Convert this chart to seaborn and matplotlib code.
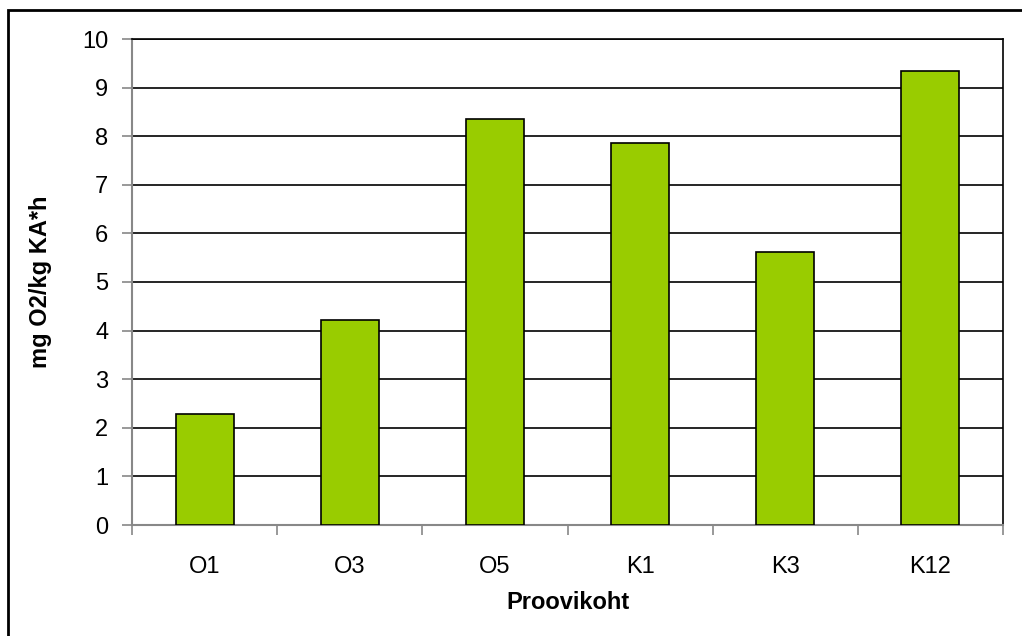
import matplotlib
matplotlib.use("Agg")
import matplotlib.pyplot as plt
import seaborn as sns
import pandas as pd
import numpy as np
from matplotlib.patches import Rectangle
from matplotlib.ticker import FixedLocator

categories = ["O1", "O3", "O5", "K1", "K3", "K12"]
values = [2.28, 4.22, 8.36, 7.87, 5.61, 9.35]
y_ticks = [0, 1, 2, 3, 4, 5, 6, 7, 8, 9, 10]

sns.set_style("white")
plt.rcParams['font.family'] = ['Liberation Sans', 'DejaVu Sans']

df = pd.DataFrame({"Proovikoht": categories, "value": values})

fig = plt.figure(figsize=(10.22, 6.36), dpi=100)
ax = fig.add_axes([132/1022, 1-525/636, (1003-132)/1022, (525-39)/636])

sns.barplot(data=df, x="Proovikoht", y="value", order=categories, color="#99cc00",
            width=0.4, edgecolor="black", linewidth=1.2, saturation=1, ax=ax, zorder=3)

ax.set_ylim(0, 10)
ax.set_xlim(-0.5, len(categories) - 0.5)
ax.set_yticks(y_ticks)
ax.yaxis.grid(True, color="black", linewidth=1.2, zorder=0)
ax.set_axisbelow(True)

ax.tick_params(axis="y", which="major", length=7, width=1.2, color="#888888",
               direction="out", labelsize=17, pad=10, left=True, labelcolor="black")
ax.tick_params(axis="x", which="major", length=0, labelsize=17, pad=22, labelcolor="black")
ax.xaxis.set_minor_locator(FixedLocator(np.arange(-0.5, len(categories), 1.0)))
ax.tick_params(axis="x", which="minor", length=7, width=1.2, color="#888888",
               direction="out", bottom=True)

for side in ["left", "bottom"]:
    ax.spines[side].set_color("#888888")
    ax.spines[side].set_linewidth(1.5)
for side in ["top", "right"]:
    ax.spines[side].set_visible(True)
    ax.spines[side].set_color("black")
    ax.spines[side].set_linewidth(1.2)

ax.set_xlabel("Proovikoht", fontsize=17, fontweight="bold", labelpad=10, color="black")
ax.set_ylabel("mg O2/kg KA*h", fontsize=17, fontweight="bold", labelpad=22, color="black")

fig.patches.append(Rectangle((8/1022, -0.1), 1.2, 1 - 10/636 + 0.1,
                             transform=fig.transFigure, fill=False,
                             edgecolor="black", linewidth=2))

fig.savefig("out.png", dpi=100, facecolor="white")
